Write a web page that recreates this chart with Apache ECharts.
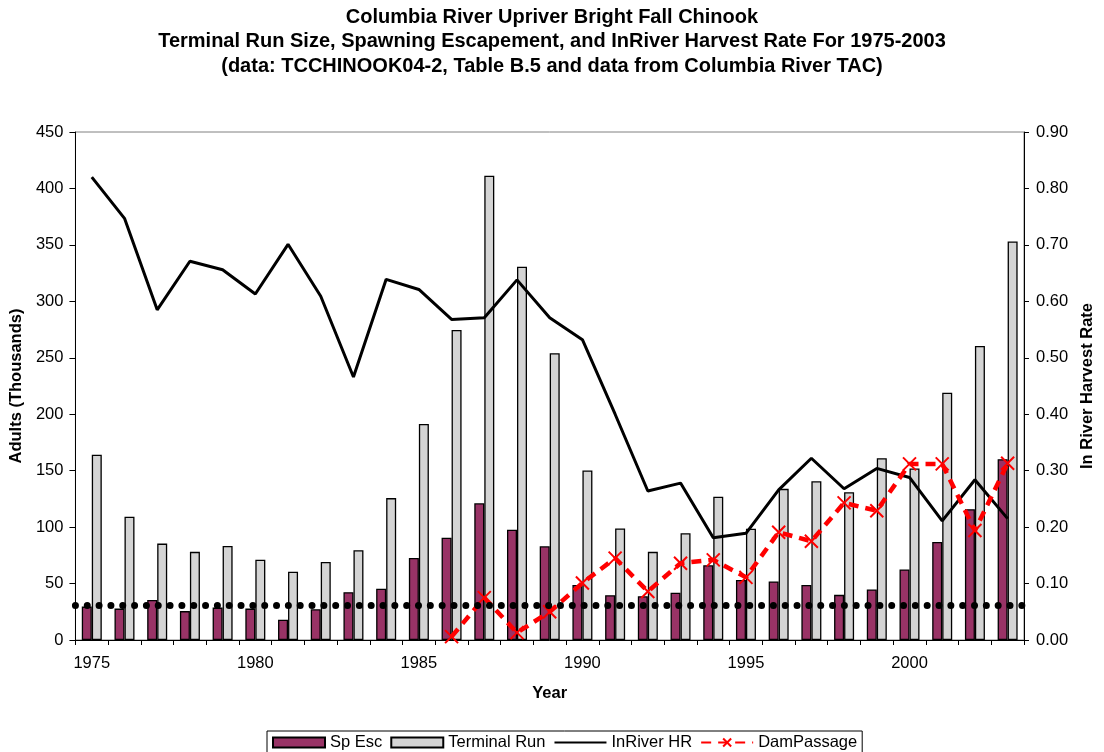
<!DOCTYPE html>
<html>
<head>
<meta charset="utf-8">
<script src="https://cdn.jsdelivr.net/npm/echarts@6/dist/echarts.min.js"></script>
<style>
  html, body { margin: 0; padding: 0; background: #fff; }
  #chart { width: 1104px; height: 752px; }
</style>
</head>
<body>
<div id="chart"></div>
<script>
const years = ['1975','1976','1977','1978','1979','1980','1981','1982','1983','1984','1985','1986','1987','1988','1989','1990','1991','1992','1993','1994','1995','1996','1997','1998','1999','2000','2001','2002','2003'];
const spEsc = [29.6, 27.8, 35.4, 25.6, 28.7, 27.8, 18.0, 27.2, 42.4, 45.5, 72.6, 90.6, 121.1, 97.6, 83.0, 48.8, 39.7, 38.7, 41.8, 66.2, 53.1, 51.9, 48.8, 40.0, 44.8, 62.5, 86.9, 115.9, 160.2];
const terminalRun = [164.1, 109.2, 85.4, 78.1, 83.3, 71.1, 60.4, 69.2, 79.6, 125.7, 191.3, 274.6, 411.2, 330.7, 254.1, 150.1, 98.8, 78.1, 94.6, 126.9, 98.5, 133.9, 140.6, 130.9, 161.1, 151.9, 219.0, 260.5, 353.0];
const inRiverHR = [0.820, 0.747, 0.585, 0.671, 0.656, 0.613, 0.701, 0.609, 0.466, 0.639, 0.621, 0.568, 0.571, 0.638, 0.571, 0.532, 0.400, 0.264, 0.278, 0.181, 0.189, 0.266, 0.322, 0.268, 0.304, 0.288, 0.211, 0.284, 0.215];
const damPassage = [null, null, null, null, null, null, null, null, null, null, null, 0.006, 0.075, 0.013, 0.050, 0.101, 0.145, 0.086, 0.136, 0.142, 0.111, 0.191, 0.175, 0.243, 0.229, 0.312, 0.312, 0.194, 0.313];
const referenceLevel = 31; // dotted reference line, thousands of adults
const leftTicks = { min: 0, max: 450, interval: 50 };
const rightTicks = { min: 0, max: 0.9, interval: 0.1 };

const FONT = '"Liberation Sans", Arial, Helvetica, sans-serif';
const chart = echarts.init(document.getElementById('chart'), null, { renderer: 'canvas' });

const option = {
  animation: false,
  backgroundColor: '#ffffff',
  textStyle: { fontFamily: FONT, color: '#000' },
  title: {
    text: 'Columbia River Upriver Bright Fall Chinook\nTerminal Run Size, Spawning Escapement, and InRiver Harvest Rate For 1975-2003\n(data: TCCHINOOK04-2, Table B.5 and data from Columbia River TAC)',
    left: 'center',
    top: 5,
    padding: 0,
    textStyle: { fontFamily: FONT, fontSize: 20, fontWeight: 'bold', color: '#000', lineHeight: 24.5, align: 'center' }
  },
  legend: {
    data: [
      { name: 'Sp Esc', icon: 'rect' },
      { name: 'Terminal Run', icon: 'rect' },
      { name: 'InRiver HR', itemStyle: { color: 'rgba(0,0,0,0)', borderColor: 'rgba(0,0,0,0)', borderWidth: 0, opacity: 0 } },
      { name: 'DamPassage' }
    ],
    left: 267,
    top: 731,
    padding: [3, 5, 3, 5],
    borderColor: '#000',
    borderWidth: 1,
    itemWidth: 52,
    itemHeight: 10,
    itemGap: 8,
    textStyle: { fontFamily: FONT, fontSize: 16.5, color: '#000' }
  },
  grid: {
    left: 74, right: 71, top: 132, bottom: 112,
    show: true, borderColor: '#808080', borderWidth: 1, backgroundColor: 'transparent'
  },
  xAxis: {
    type: 'category',
    data: years,
    name: 'Year',
    nameLocation: 'middle',
    nameGap: 45,
    nameTextStyle: { fontFamily: FONT, fontSize: 16.5, fontWeight: 'bold', color: '#000' },
    axisLine: { lineStyle: { color: '#000', width: 1 } },
    axisTick: { show: true, interval: 0, length: 5, alignWithLabel: false, lineStyle: { color: '#000' } },
    axisLabel: { interval: 4, margin: 15, fontFamily: FONT, fontSize: 16.5, color: '#000' },
    splitLine: { show: false }
  },
  yAxis: [
    {
      type: 'value',
      min: leftTicks.min, max: leftTicks.max, interval: leftTicks.interval,
      name: 'Adults (Thousands)',
      nameLocation: 'middle',
      nameGap: 50,
      nameTextStyle: { fontFamily: FONT, fontSize: 16.5, fontWeight: 'bold', color: '#000' },
      axisLine: { show: true, lineStyle: { color: '#000', width: 1 } },
      axisTick: { show: true, length: 6, lineStyle: { color: '#000' } },
      axisLabel: { margin: 12, fontFamily: FONT, fontSize: 16.5, color: '#000' },
      splitLine: { show: false }
    },
    {
      type: 'value',
      position: 'right',
      min: rightTicks.min, max: rightTicks.max, interval: rightTicks.interval,
      name: 'In River Harvest Rate',
      nameLocation: 'middle',
      nameGap: 54,
      nameRotate: 90,
      nameTextStyle: { fontFamily: FONT, fontSize: 16.5, fontWeight: 'bold', color: '#000' },
      axisLine: { show: true, lineStyle: { color: '#000', width: 1 } },
      axisTick: { show: true, length: 5, lineStyle: { color: '#000' } },
      axisLabel: { margin: 12, fontFamily: FONT, fontSize: 16.5, color: '#000', formatter: v => v.toFixed(2) },
      splitLine: { show: false }
    }
  ],
  series: [
    {
      name: 'Sp Esc',
      type: 'bar',
      yAxisIndex: 0,
      data: spEsc,
      barWidth: 10,
      barGap: '0%',
      itemStyle: { color: '#993366', borderColor: '#000', borderWidth: 1.3 },
      emphasis: { disabled: true },
      markLine: {
        silent: true,
        symbol: ['none', 'none'],
        label: { show: false },
        lineStyle: { color: '#000', width: 7, type: [0, 11.83], cap: 'round' },
        emphasis: { disabled: true },
        data: [{ yAxis: referenceLevel }]
      }
    },
    {
      name: 'Terminal Run',
      type: 'bar',
      yAxisIndex: 0,
      data: terminalRun,
      barWidth: 10,
      barGap: '0%',
      itemStyle: { color: '#D4D4D4', borderColor: '#000', borderWidth: 1.3 },
      emphasis: { disabled: true }
    },
    {
      name: 'InRiver HR',
      type: 'line',
      yAxisIndex: 1,
      data: inRiverHR,
      symbol: 'none',
      showSymbol: false,
      lineStyle: { color: '#000', width: 3 },
      itemStyle: { color: '#000' },
      emphasis: { disabled: true }
    },
    {
      name: 'DamPassage',
      type: 'line',
      yAxisIndex: 1,
      data: damPassage,
      connectNulls: false,
      symbol: 'path://M0,0L10,10M10,0L0,10',
      symbolSize: 13,
      showSymbol: true,
      lineStyle: { color: '#FF0000', width: 4.5, type: [10, 7] },
      itemStyle: { color: '#FF0000', borderColor: '#FF0000', borderWidth: 2 },
      emphasis: { disabled: true }
    }
  ]
};
chart.setOption(option);
</script>
</body>
</html>
